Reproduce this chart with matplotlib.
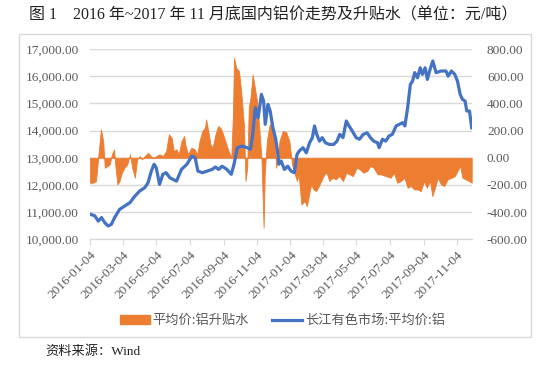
import matplotlib
matplotlib.use("Agg")
import matplotlib.pyplot as plt
import matplotlib.dates as mdates
from matplotlib.ticker import FuncFormatter
from matplotlib.patches import Rectangle
import pandas as pd

plt.rcParams['font.family'] = ['Liberation Serif', 'Noto Sans CJK SC', 'DejaVu Sans']

start = "2016-01-04"

# Blue: 长江有色市场:平均价:铝 (left axis), x = days since 2016-01-04
blue_days = [1, 9, 15, 21, 27, 33, 39, 45, 54, 63, 73, 82, 91, 100, 106, 112, 117, 121,
             127, 133, 139, 146, 152, 158, 167, 177, 186, 192, 197, 205, 214, 223, 229,
             235, 241, 250, 258, 263, 269, 278, 287, 293, 297, 302, 307, 313, 317, 320,
             325, 329, 334, 339, 342, 345, 349, 355, 361, 367, 373, 378, 382, 389, 395,
             401, 406, 410, 414, 419, 424, 430, 437, 445, 451, 456, 462, 468, 473, 479,
             486, 492, 499, 506, 512, 518, 525, 528, 534, 540, 546, 552, 559, 565, 571,
             575, 580, 585, 589, 593, 598, 603, 607, 612, 616, 621, 626, 632, 641, 650,
             654, 660, 666, 671, 676, 680, 685, 688, 693, 697]
blue_vals = [10920, 10860, 10670, 10800, 10610, 10490, 10550, 10800, 11100, 11220, 11350,
             11590, 11780, 11900, 12080, 12510, 12760, 12630, 12020, 12390, 12450, 12260,
             12200, 12140, 12570, 12760, 13060, 13000, 12510, 12450, 12510, 12570, 12660,
             12570, 12690, 12570, 12390, 12760, 13370, 13430, 13370, 13310, 13860, 14840,
             14470, 15330, 15080, 14230, 14960, 14720, 14100, 13700, 13300, 12760, 12880,
             12570, 12690, 12510, 12450, 13120, 13250, 13370, 13180, 13550, 13740, 14170,
             13860, 13610, 13740, 13550, 13490, 13490, 13610, 13860, 13740, 14350, 14170,
             13980, 13740, 13680, 13860, 13920, 13740, 13610, 13550, 13370, 13680, 13610,
             13800, 13860, 14170, 14230, 14290, 14170, 14840, 15700, 15820, 16130, 15940,
             16310, 16070, 16310, 15880, 16250, 16560, 16130, 16190, 16190, 16000, 16190,
             16070, 15820, 15330, 15150, 15080, 14720, 14720, 14100]

# Orange: 平均价:铝升贴水 (right axis)
orange_days = [0, 5, 11, 16, 20, 24, 27, 32, 36, 40, 44, 46, 50, 54, 58, 63, 68, 73, 77,
               82, 86, 91, 95, 100, 106, 111, 115, 121, 127, 133, 139, 144, 149, 153, 158,
               162, 167, 172, 174, 179, 185, 191, 196, 200, 205, 210, 212, 216, 220, 224,
               229, 234, 238, 242, 247, 253, 258, 261, 263, 267, 272, 276, 281, 284, 287,
               290, 293, 297, 301, 305, 309, 313, 317, 319, 323, 328, 333, 337, 340, 343,
               346, 352, 358, 364, 369, 373, 378, 381, 386, 392, 396, 400, 404, 408, 413,
               418, 422, 428, 432, 437, 443, 449, 455, 462, 468, 474, 480, 487, 493, 499,
               506, 512, 518, 525, 531, 540, 549, 555, 561, 568, 574, 580, 586, 592, 598,
               604, 610, 615, 621, 625, 630, 635, 641, 647, 653, 660, 666, 671, 676, 680,
               686, 692, 697]
orange_vals = [-184, -184, -171, 49, 209, 123, -74, -61, -49, 25, 62, -49, -196, -171, -110,
               -74, -49, 25, -74, -147, -12, 12, -12, 12, 37, 12, 0, 12, 25, 12, 49, 172, 147,
               49, 62, 25, 123, 160, 98, 25, 74, 62, 25, 123, 196, 221, 282, 196, 98, 74, 172,
               233, 221, 184, 123, 49, 0, 319, 735, 662, 637, 490, 245, -171, -74, 368, 441,
               613, 515, 417, 221, 0, -515, -122, 123, 245, 245, 147, -74, 25, 123, 196, 190,
               123, -49, -110, -171, -122, -343, -318, -355, -269, -196, -233, -245, -208,
               -171, -122, -110, -171, -147, -159, -135, -171, -110, -122, -135, -74, -86,
               -110, -98, -61, -74, -122, -122, -135, -147, -110, -184, -171, -147, -221,
               -208, -233, -233, -245, -171, -221, -171, -282, -221, -147, -196, -208, -159,
               -147, -135, -98, -61, -147, -159, -171, -184]

left_ticks = [10000, 11000, 12000, 13000, 14000, 15000, 16000, 17000]
right_ticks = [-600, -400, -200, 0, 200, 400, 600, 800]
x_ticks = ["2016-01-04", "2016-03-04", "2016-05-04", "2016-07-04", "2016-09-04",
           "2016-11-04", "2017-01-04", "2017-03-04", "2017-05-04", "2017-07-04",
           "2017-09-04", "2017-11-04"]

t0 = pd.Timestamp(start)
bdates = t0 + pd.to_timedelta(blue_days, unit="D")
odates = t0 + pd.to_timedelta(orange_days, unit="D")

W, H = 550, 372
fig = plt.figure(figsize=(5.5, 3.72), dpi=100)

# outer box
fig.patches.append(Rectangle((19 / W, 1 - 337 / H), (531 - 19) / W, (337 - 34) / H,
                             transform=fig.transFigure, fill=False,
                             edgecolor="#d9d9d9", lw=1.0))

ax = fig.add_axes([90 / W, 1 - 239.3 / H, (471.7 - 90) / W, (239.3 - 49) / H])
ax2 = ax.twinx()
ax.set_zorder(ax2.get_zorder() + 1)
ax.patch.set_visible(False)

orange = "#ED7D31"
blue = "#4472C4"
gray = "#595959"

ax2.fill_between(odates, orange_vals, 0, color=orange, lw=0.6, edgecolor=orange, zorder=2)
ax.plot(bdates, blue_vals, color=blue, lw=2.3, solid_joinstyle="round", zorder=3)

ax.set_ylim(10000, 17000)
ax2.set_ylim(-600, 800)
ax.set_yticks(left_ticks)
ax2.set_yticks(right_ticks)
ax.yaxis.set_major_formatter(FuncFormatter(lambda v, p: f"{v:,.2f}"))
ax2.yaxis.set_major_formatter(FuncFormatter(lambda v, p: f"{v:.2f}"))

ax2.grid(axis="y", color="#d9d9d9", lw=1.0, zorder=0)
ax2.set_axisbelow(True)

xt = pd.to_datetime(x_ticks)
ax.set_xlim(t0, t0 + pd.Timedelta(days=697))
ax.set_xticks(xt)
ax.set_xticklabels(x_ticks, rotation=45, ha="right", rotation_mode="anchor")

for a in (ax, ax2):
    for s in ("left", "right", "top"):
        a.spines[s].set_visible(False)
    a.spines["bottom"].set_color("#d9d9d9")
    a.tick_params(axis="y", length=0, labelsize=9.5, labelcolor=gray)
ax.tick_params(axis="y", pad=8)
ax2.tick_params(axis="y", pad=11)
ax.tick_params(axis="x", length=4, color="#d9d9d9", labelsize=9.5, labelcolor=gray, pad=3)
ax2.tick_params(axis="x", length=0)

# legend
fig.patches.append(Rectangle((120 / W, 1 - 324 / H), 30 / W, 9 / H,
                             transform=fig.transFigure, color=orange))
fig.text(152 / W, 1 - 320 / H, "平均价:铝升贴水", fontsize=9.5, color=gray,
         va="center", ha="left", family=["Noto Sans CJK SC", "DejaVu Sans"])
fig.lines.append(plt.Line2D([272 / W, 302 / W], [1 - 320 / H, 1 - 320 / H],
                            transform=fig.transFigure, color=blue, lw=2.3))
fig.text(305 / W, 1 - 320 / H, "长江有色市场:平均价:铝", fontsize=9.5, color=gray,
         va="center", ha="left", family=["Noto Sans CJK SC", "DejaVu Sans"])

fig.text(273 / W, 1 - 15 / H,
         "图 1    2016 年~2017 年 11 月底国内铝价走势及升贴水（单位：元/吨）",
         fontsize=11.5, color="#222222", ha="center", va="center",
         family=["Liberation Serif", "Noto Sans CJK SC"])
fig.text(45 / W, 1 - 352 / H, "资料来源：Wind", fontsize=9.5, color="#222222",
         ha="left", va="center", family=["Liberation Serif", "Noto Sans CJK SC"])

fig.savefig("out.png", dpi=100)
